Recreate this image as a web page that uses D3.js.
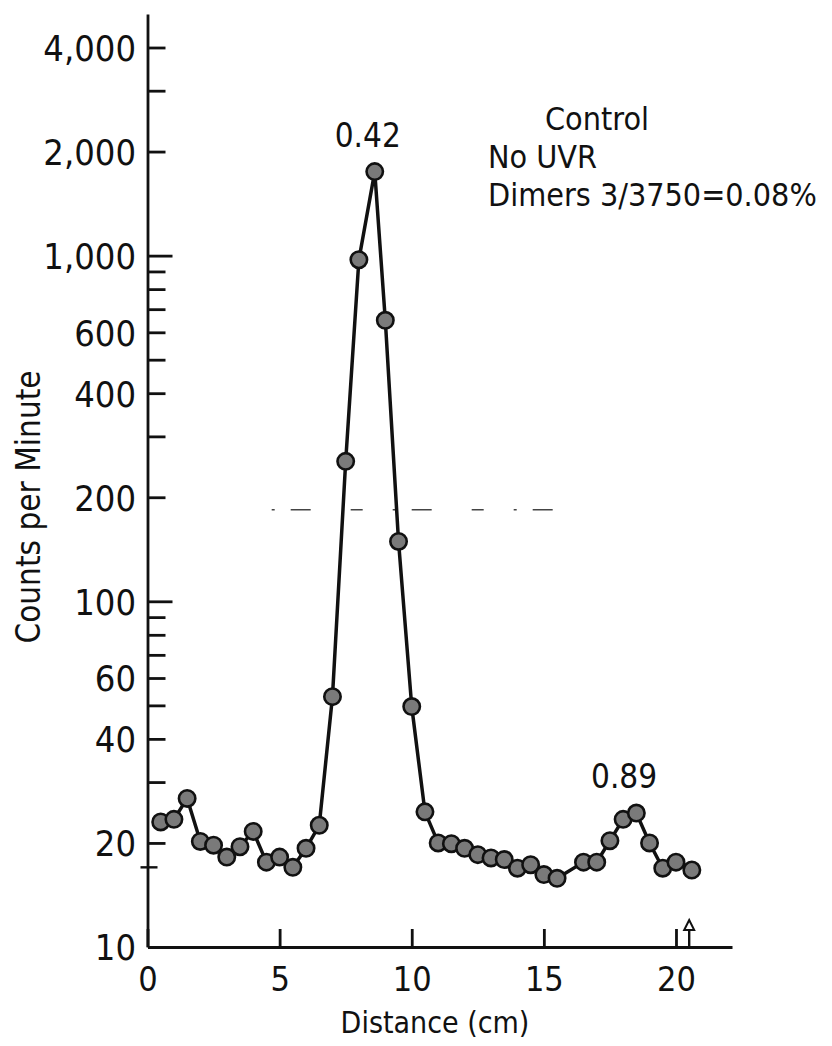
<!DOCTYPE html>
<html>
<head>
<meta charset="utf-8">
<script src="https://cdn.jsdelivr.net/npm/d3@7"></script>
<style>
  body { margin: 0; background: #fff; }
  svg text {
    font-family: "DejaVu Sans Condensed", "DejaVu Sans", sans-serif;
    font-stretch: condensed;
    fill: #111;
  }
</style>
</head>
<body>
<svg id="chart"></svg>
<script>
let width = 832;
let height = 1046;

// fraction position along the gel (cm) and counts
let distance = [
  0.5, 1.0, 1.5, 2.0, 2.5, 3.0, 3.5, 4.0, 4.5, 5.0, 5.5, 6.0, 6.5, 7.0,
  7.5, 8.0, 8.6, 9.0, 9.5, 10.0, 10.5, 11.0, 11.5, 12.0, 12.5, 13.0, 13.5,
  14.0, 14.5, 15.0, 15.5, 16.5, 17.0, 17.5, 18.0, 18.5, 19.0, 19.5, 20.0, 20.6,
];
let counts = [
  23.0, 23.4, 26.9, 20.2, 19.7, 18.2, 19.5, 21.6, 17.6, 18.2, 17.0, 19.3, 22.5, 53,
  254, 973, 1750, 650, 149, 49.6, 24.6, 20.0, 19.9, 19.3, 18.5, 18.1, 17.9,
  16.9, 17.3, 16.2, 15.8, 17.6, 17.6, 20.3, 23.4, 24.4, 20.0, 16.9, 17.6, 16.7,
];

let yTicks = [4000, 3000, 2000, 1000, 900, 800, 700, 600, 500, 400, 300, 200,
  100, 90, 80, 70, 60, 50, 40, 30, 20];
let yLabels = [4000, 2000, 1000, 600, 400, 200, 100, 60, 40, 20, 10];
let xTicks = [0, 5, 10, 15, 20];

let peakLabels = [
  { x: 8.6, y: 1750, text: "0.42" },
  { x: 18.3, y: 24.4, text: "0.89" },
];
let notes = ["Control", "No UVR", "Dimers 3/3750=0.08%"];

let guide = { from: 4.7, to: 15.7, value: 184 };
let markerAt = 20.5;
let crossTick = 17;

let svg = d3.select("#chart").attr("width", width).attr("height", height);

let x = d3.scaleLinear().domain([0, 22.12]).range([147.5, 732]);
let y = d3.scaleLog().domain([10, 5000]).range([947, 14]);

// y axis: ticks point into the plot, labels on the left
let yAxis = svg
  .append("g")
  .attr("transform", `translate(${x(0)},0)`)
  .call(
    d3.axisLeft(y)
      .tickValues(yTicks)
      .tickSizeInner(-18)
      .tickSizeOuter(0)
      .tickFormat("")
  );
yAxis.selectAll("line")
  .attr("x2", (d) => (d === 1000 || d === 100 ? 25 : 18));
yAxis.selectAll("path, line").attr("stroke", "#111").attr("stroke-width", 2.8);

svg.append("line")
  .attr("x1", x(0) - 7).attr("x2", x(0) + 10)
  .attr("y1", y(crossTick)).attr("y2", y(crossTick))
  .attr("stroke", "#111").attr("stroke-width", 2.4);

svg.append("g")
  .selectAll("text")
  .data(yLabels)
  .join("text")
  .attr("x", 136)
  .attr("y", (d) => y(d))
  .attr("dy", "0.37em")
  .attr("text-anchor", "end")
  .attr("font-size", 36)
  .text((d) => d3.format(",")(d));

// x axis
let xAxis = svg
  .append("g")
  .attr("transform", `translate(0,${y(10)})`)
  .call(
    d3.axisBottom(x)
      .tickValues(xTicks)
      .tickSizeInner(-18)
      .tickSizeOuter(0)
      .tickPadding(20)
  );
xAxis.attr("font-family", null);
xAxis.selectAll("path, line").attr("stroke", "#111").attr("stroke-width", 2.8);
xAxis.selectAll("text")
  .attr("font-size", 34)
  .attr("fill", "#111");

// arrow marking the end of the gel
let ax = x(markerAt);
svg.append("line")
  .attr("x1", ax).attr("x2", ax)
  .attr("y1", y(10)).attr("y2", y(10) - 20)
  .attr("stroke", "#111").attr("stroke-width", 2.4);
svg.append("path")
  .attr("d", `M${ax - 5},${y(10) - 17}L${ax},${y(10) - 27}L${ax + 5},${y(10) - 17}Z`)
  .attr("fill", "#fff").attr("stroke", "#111").attr("stroke-width", 2);

// faint dashed guide across the peak
svg.append("line")
  .attr("x1", x(guide.from)).attr("x2", x(guide.to))
  .attr("y1", y(guide.value)).attr("y2", y(guide.value))
  .attr("stroke", "#444").attr("stroke-width", 1.6)
  .attr("stroke-dasharray", "3,16,20,40,12,30");

// axis titles
svg.append("text")
  .attr("transform", `translate(40,507) rotate(-90)`)
  .attr("text-anchor", "middle")
  .attr("font-size", 33)
  .text("Counts per Minute");

svg.append("text")
  .attr("x", 435)
  .attr("y", 1033)
  .attr("text-anchor", "middle")
  .attr("font-size", 30)
  .text("Distance (cm)");

// data
let points = distance.map((d, i) => ({ x: d, y: counts[i] }));

svg.append("path")
  .datum(points)
  .attr("fill", "none")
  .attr("stroke", "#111")
  .attr("stroke-width", 3.5)
  .attr("d", d3.line().x((d) => x(d.x)).y((d) => y(d.y)));

svg.append("g")
  .selectAll("circle")
  .data(points)
  .join("circle")
  .attr("cx", (d) => x(d.x))
  .attr("cy", (d) => y(d.y))
  .attr("r", 8.2)
  .attr("fill", "#7a7a7a")
  .attr("stroke", "#111")
  .attr("stroke-width", 2.6);

// peak labels
svg.append("g")
  .selectAll("text")
  .data(peakLabels)
  .join("text")
  .attr("x", (d) => x(d.x) - 7)
  .attr("y", (d) => y(d.y) - 25)
  .attr("text-anchor", "middle")
  .attr("font-size", 33)
  .text((d) => d.text);

// condition notes
let noteX = [545, 488, 488];
let noteY = [130, 168, 206];
svg.append("g")
  .selectAll("text")
  .data(notes)
  .join("text")
  .attr("x", (d, i) => noteX[i])
  .attr("y", (d, i) => noteY[i])
  .attr("font-size", 32)
  .text((d) => d);
</script>
</body>
</html>
